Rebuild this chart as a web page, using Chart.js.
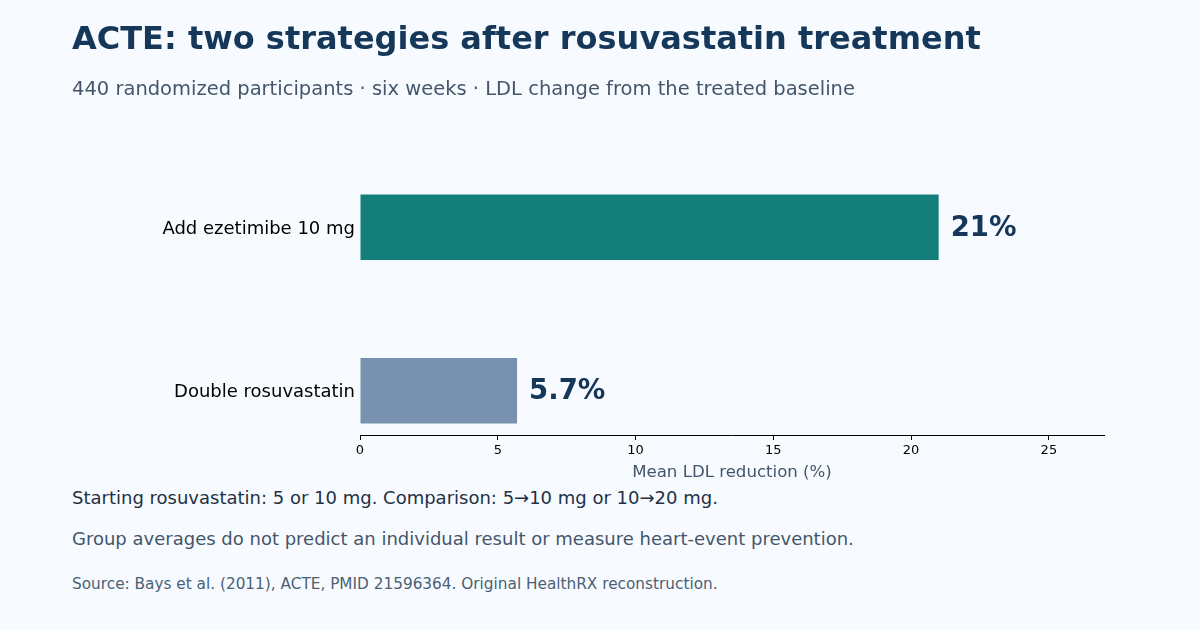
<!DOCTYPE html>
<html>
<head>
<meta charset="utf-8">
<script src="https://cdn.jsdelivr.net/npm/chart.js@4.4.1/dist/chart.umd.min.js"></script>
<style>
  body { margin: 0; background: #f7fbff; font-family: "DejaVu Sans", sans-serif; }
  #wrap { position: relative; width: 1200px; height: 630px; overflow: hidden; }
  #chart { position: absolute; left: 0; top: 0; }
  .txt { position: absolute; left: 72px; white-space: nowrap; }
  #title { top: 19px; font-size: 32px; font-weight: bold; color: #14375a; }
  #sub { top: 77px; font-size: 19.5px; color: #44566b; }
  #note1 { top: 487px; font-size: 18px; color: #1f3144; }
  #note2 { top: 528px; font-size: 18px; color: #44566b; }
  #src { top: 575px; font-size: 15.3px; color: #4b6076; }
</style>
</head>
<body>
<div id="wrap">
  <canvas id="chart" width="1200" height="483"></canvas>
  <div class="txt" id="title">ACTE: two strategies after rosuvastatin treatment</div>
  <div class="txt" id="sub">440 randomized participants · six weeks · LDL change from the treated baseline</div>
  <div class="txt" id="note1">Starting rosuvastatin: 5 or 10 mg. Comparison: 5→10 mg or 10→20 mg.</div>
  <div class="txt" id="note2">Group averages do not predict an individual result or measure heart-event prevention.</div>
  <div class="txt" id="src">Source: Bays et al. (2011), ACTE, PMID 21596364. Original HealthRX reconstruction.</div>
</div>
<script>
// data
var strategies = ["Double rosuvastatin", "Add ezetimibe 10 mg"];
var reduction = [5.7, 21];
var valueLabels = ["5.7%", "21%"];
var barColors = ["#7891b0", "#147f7a"];
var xTicks = [0, 5, 10, 15, 20, 25];

var points = reduction.map(function (v, i) { return { x: v, y: i }; });

var valueLabelPlugin = {
  id: 'valueLabels',
  afterDatasetsDraw: function (chart) {
    var ctx = chart.ctx;
    var meta = chart.getDatasetMeta(0);
    ctx.save();
    ctx.font = 'bold 27.5px "DejaVu Sans"';
    ctx.fillStyle = '#14375a';
    ctx.textAlign = 'left';
    ctx.textBaseline = 'middle';
    meta.data.forEach(function (bar, i) {
      ctx.fillText(valueLabels[i], bar.x + 12, bar.y + 1.5);
    });
    ctx.restore();
  }
};

new Chart(document.getElementById("chart"), {
  type: 'bar',
  data: {
    datasets: [{
      data: points,
      backgroundColor: barColors,
      categoryPercentage: 1,
      barPercentage: 0.4
    }]
  },
  options: {
    indexAxis: 'y',
    responsive: false,
    animation: false,
    layout: { padding: { top: 183, right: 96, left: 0, bottom: 0 } },
    plugins: { legend: { display: false }, tooltip: { enabled: false } },
    scales: {
      x: {
        type: 'linear',
        min: 0,
        max: 27,
        afterFit: function (s) { s.height = 48; },
        afterBuildTicks: function (s) { s.ticks = xTicks.map(function (v) { return { value: v }; }); },
        grid: { drawOnChartArea: false, drawTicks: true, tickLength: 5, color: '#000' },
        border: { display: true, color: '#000', width: 1 },
        ticks: { color: '#000', font: { family: 'DejaVu Sans', size: 13 }, padding: 3, maxRotation: 0 },
        title: {
          display: true,
          text: 'Mean LDL reduction (%)',
          color: '#44566b',
          font: { family: 'DejaVu Sans', size: 16.6 },
          padding: { top: 4, bottom: 0 }
        }
      },
      y: {
        type: 'linear',
        min: -0.27,
        max: 1.27,
        offset: false,
        afterFit: function (s) { s.width = 360; },
        afterBuildTicks: function (s) { s.ticks = strategies.map(function (c, i) { return { value: i }; }); },
        grid: { display: false, drawTicks: false, offset: false },
        border: { display: false },
        ticks: {
          color: '#000',
          padding: 5,
          labelOffset: 2,
          font: { family: 'DejaVu Sans', size: 18 },
          callback: function (v) { return strategies[v]; }
        }
      }
    }
  },
  plugins: [valueLabelPlugin]
});
</script>
</body>
</html>
